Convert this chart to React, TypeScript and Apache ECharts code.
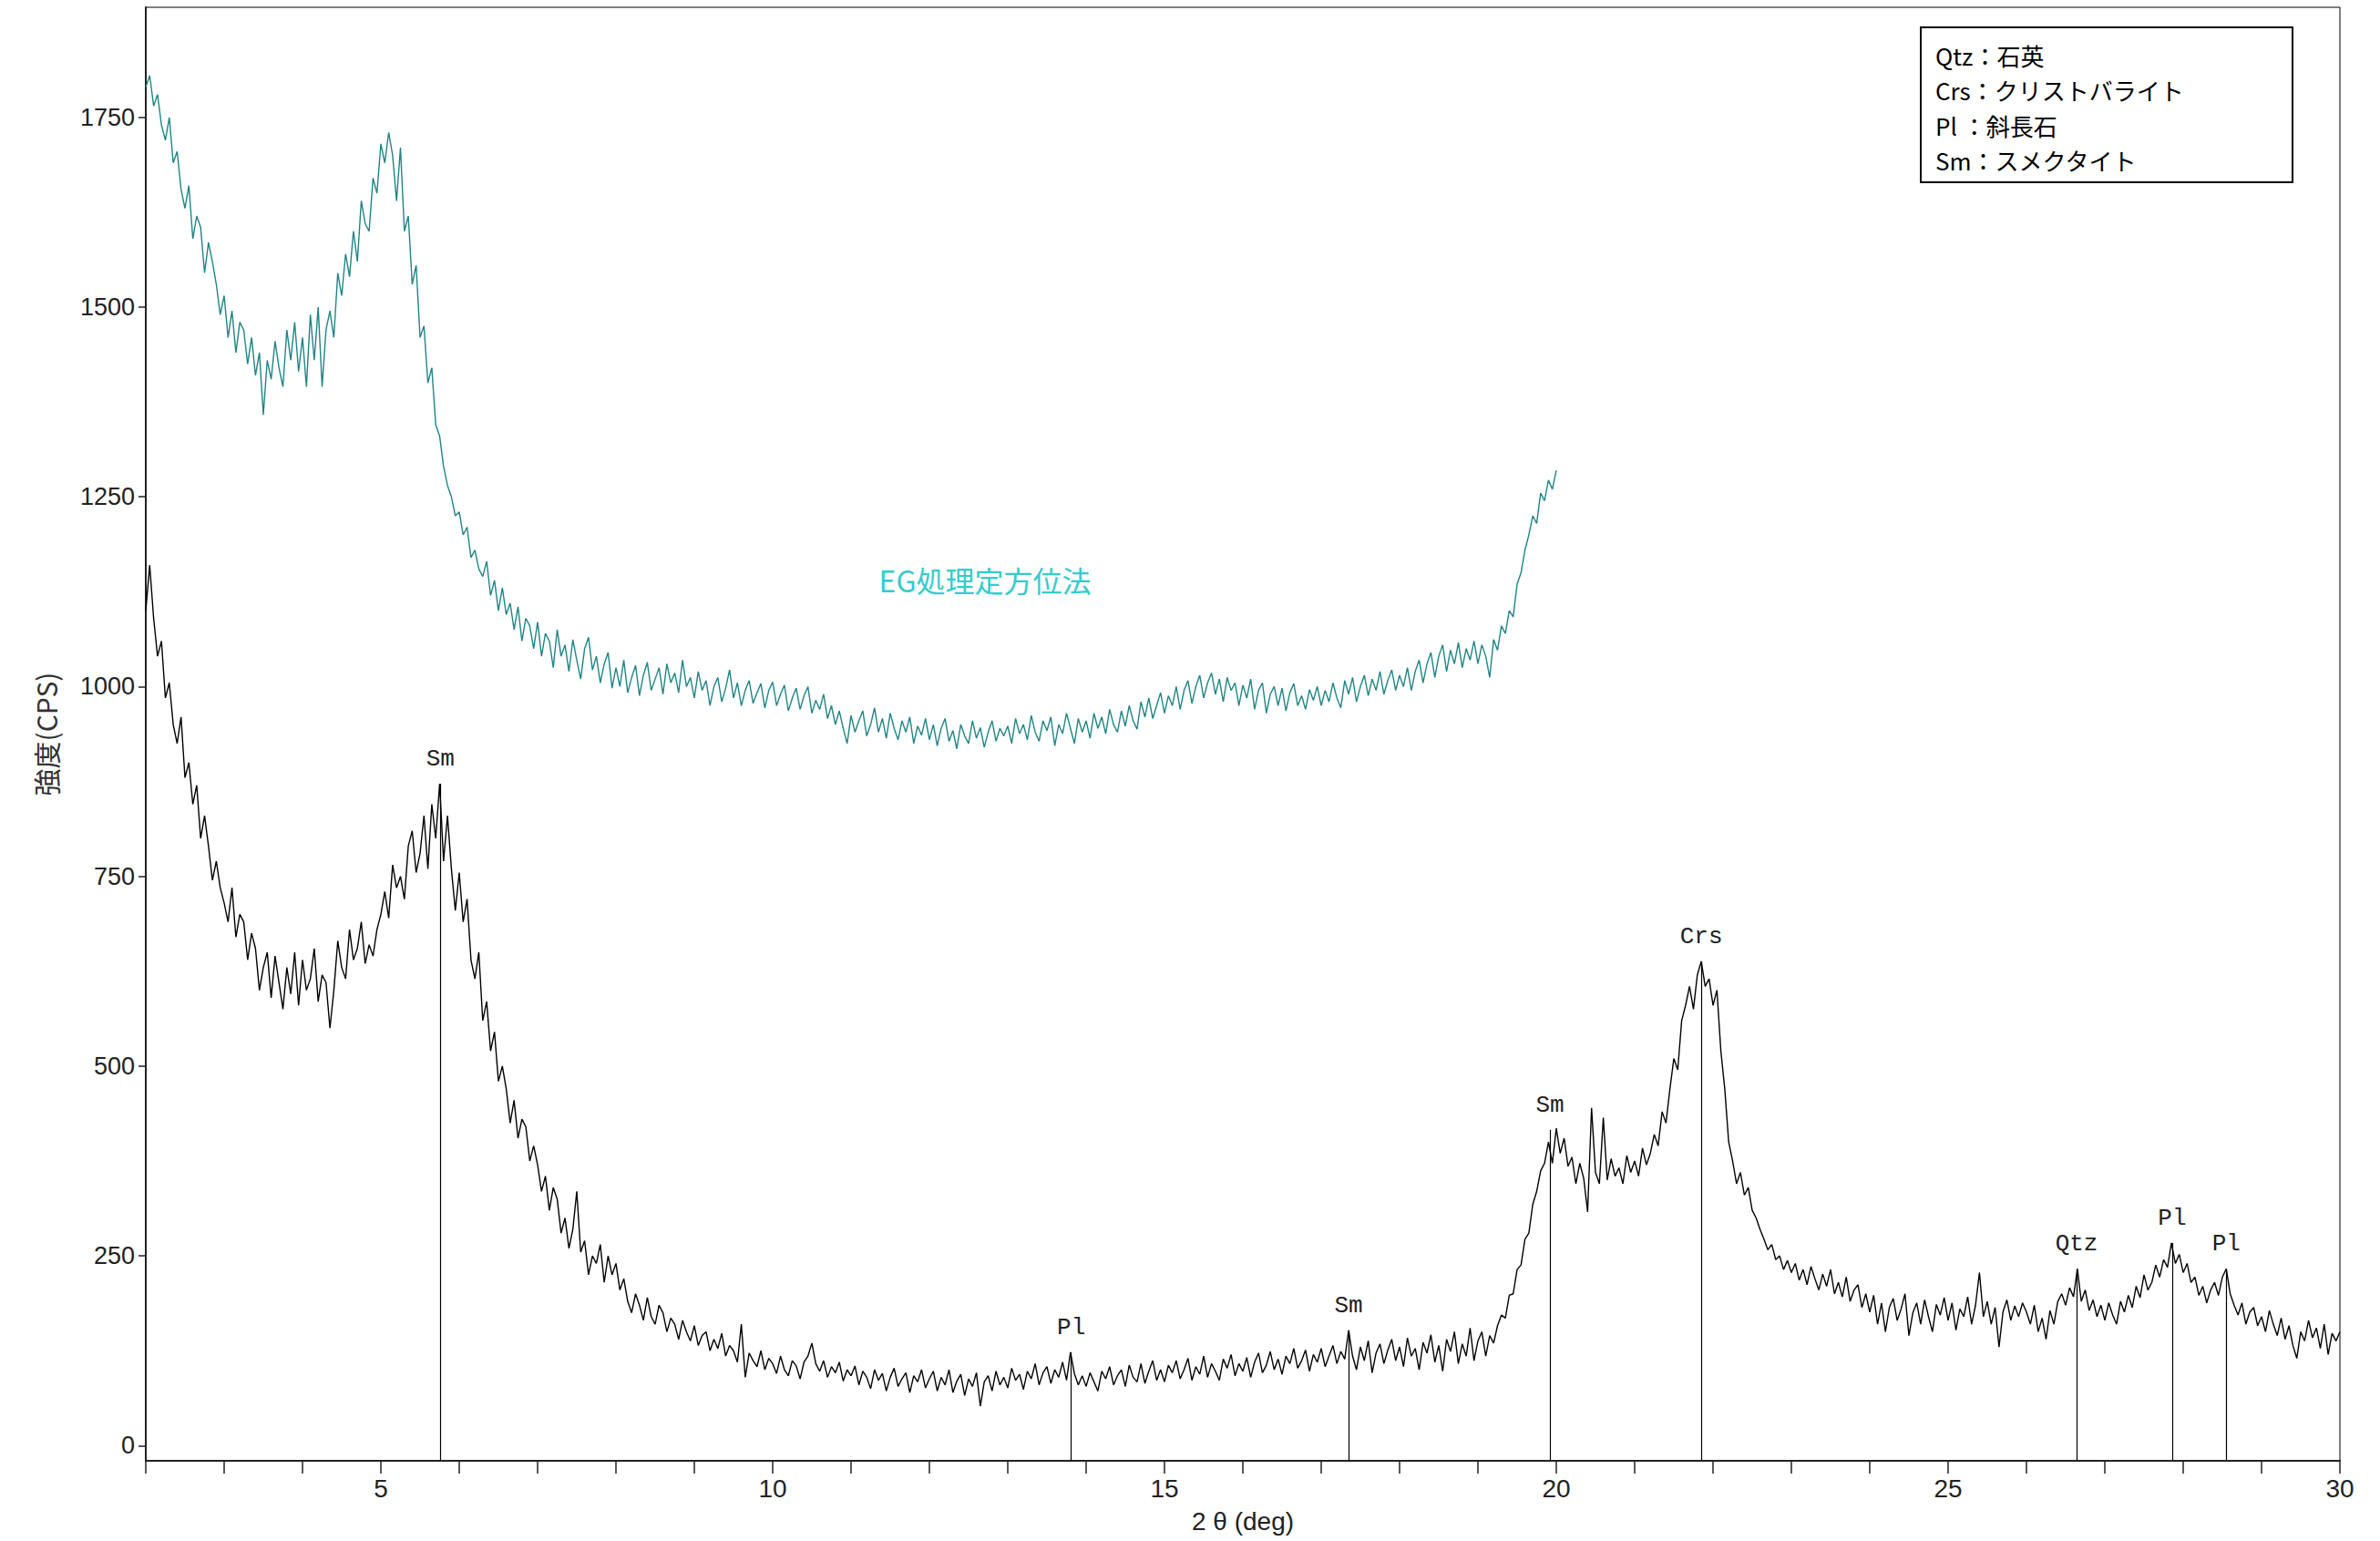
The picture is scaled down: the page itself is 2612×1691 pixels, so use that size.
import React, { useEffect, useRef } from "react";
import * as echarts from "echarts";

// 2θ sampling of both patterns (deg)
const X_START = 2;
const X_STEP = 0.05;

// Untreated sample intensity (CPS), 2.00° .. 30.00° every 0.05°
const blackIntensity: number[] = [
  1100, 1160, 1090, 1040, 1060, 985, 1005, 950, 925, 960, 880, 900, 845, 870, 800, 830, 790, 745, 770, 735,
  715, 690, 735, 670, 700, 690, 640, 675, 655, 600, 630, 650, 590, 645, 610, 575, 630, 595, 650, 580,
  640, 600, 615, 655, 585, 620, 610, 550, 600, 665, 630, 615, 680, 640, 655, 690, 635, 660, 645, 680,
  700, 730, 695, 765, 735, 750, 720, 790, 810, 755, 780, 830, 760, 845, 800, 872, 770, 830, 760, 705,
  755, 690, 720, 640, 615, 650, 560, 585, 520, 545, 480, 500, 470, 425, 455, 405, 430, 420, 375, 395,
  370, 335, 355, 310, 340, 325, 280, 300, 260, 285, 335, 255, 270, 225, 250, 240, 265, 215, 250, 225,
  240, 205, 220, 190, 175, 200, 185, 165, 195, 170, 160, 185, 175, 150, 168, 160, 140, 165, 150, 138,
  158, 132, 145, 150, 125, 140, 128, 148, 118, 132, 125, 110, 160, 90, 122, 112, 104, 125, 100, 115,
  108, 95, 118, 100, 92, 112, 105, 88, 110, 118, 135, 108, 98, 112, 90, 104, 96, 110, 85, 100,
  92, 105, 80, 98, 90, 75, 100, 86, 95, 72, 90, 102, 78, 88, 96, 70, 92, 84, 100, 76,
  88, 98, 72, 90, 80, 100, 70, 85, 94, 66, 88, 78, 96, 52, 84, 92, 72, 98, 80, 90,
  76, 102, 86, 94, 74, 98, 88, 108, 80, 96, 104, 82, 100, 90, 110, 86, 123, 95, 80, 92,
  78, 96, 84, 72, 98, 88, 104, 80, 92, 100, 78, 106, 90, 84, 108, 82, 98, 112, 86, 100,
  84, 106, 96, 112, 88, 100, 115, 86, 104, 94, 118, 90, 108, 98, 86, 114, 102, 120, 92, 108,
  98, 116, 90, 110, 122, 96, 106, 124, 100, 114, 94, 118, 108, 128, 102, 112, 126, 98, 120, 110,
  128, 104, 118, 132, 108, 124, 114, 152, 118, 100, 130, 112, 138, 96, 122, 134, 108, 126, 140, 112,
  130, 104, 142, 118, 128, 100, 136, 122, 146, 110, 132, 98, 140, 124, 150, 108, 134, 118, 155, 112,
  138, 150, 118, 145, 135, 158, 172, 168, 198, 200, 232, 238, 272, 280, 318, 335, 362, 372, 400, 372,
  418, 385, 405, 368, 380, 345, 372, 352, 308, 445, 360, 345, 432, 350, 378, 355, 366, 345, 382, 360,
  375, 355, 392, 370, 385, 410, 395, 440, 425, 470, 510, 495, 560, 580, 605, 575, 620, 638, 605, 615,
  580, 600, 520, 470, 400, 375, 345, 360, 330, 340, 310, 300, 285, 272, 258, 265, 245, 250, 232, 244,
  228, 240, 218, 232, 212, 236, 220, 205, 226, 210, 232, 200, 215, 196, 222, 190, 205, 212, 182, 200,
  176, 198, 160, 188, 150, 182, 194, 165, 180, 200, 145, 175, 188, 160, 192, 170, 150, 186, 172, 195,
  165, 188, 152, 180, 170, 196, 160, 185, 228, 170, 190, 160, 182, 130, 176, 192, 165, 184, 170, 188,
  176, 160, 185, 150, 168, 140, 178, 160, 190, 200, 185, 208, 196, 233, 190, 205, 178, 192, 170, 185,
  165, 188, 172, 160, 190, 176, 198, 182, 210, 195, 225, 205, 215, 238, 222, 245, 235, 267, 240, 252,
  228, 240, 215, 222, 198, 210, 188, 205, 215, 198, 222, 233, 200, 185, 172, 188, 160, 176, 182, 158,
  170, 150, 178, 160, 145, 168, 140, 158, 132, 115, 150, 138, 165, 142, 155, 128, 160, 120, 148, 138,
  150,
];

// EG-treated oriented sample intensity (CPS), 2.00° .. 20.00° every 0.05°
const tealIntensity: number[] = [
  1790, 1805, 1765, 1780, 1740, 1720, 1750, 1690, 1705, 1655, 1630, 1660, 1590, 1620, 1605, 1545, 1585, 1560, 1530, 1490,
  1515, 1460, 1495, 1440, 1480, 1470, 1425, 1460, 1410, 1440, 1358, 1430, 1405, 1455, 1420, 1395, 1470, 1430, 1480, 1415,
  1460, 1395, 1490, 1430, 1500, 1395, 1470, 1495, 1460, 1545, 1515, 1570, 1540, 1600, 1560, 1640, 1610, 1600, 1670, 1650,
  1715, 1690, 1730, 1700, 1640, 1710, 1600, 1620, 1530, 1555, 1460, 1475, 1400, 1420, 1345, 1330, 1290, 1265, 1250, 1225,
  1230, 1200, 1210, 1170, 1180, 1155, 1145, 1165, 1120, 1140, 1100, 1130, 1095, 1110, 1075, 1105, 1060, 1090, 1080, 1050,
  1085, 1040, 1070, 1060, 1025, 1075, 1040, 1055, 1020, 1062, 1035, 1010, 1050, 1065, 1022, 1040, 1005, 1030, 1045, 998,
  1025, 1000, 1035, 992, 1012, 1028, 988, 1015, 1032, 995, 1010, 1025, 990, 1030, 1005, 1018, 992, 1035, 1000, 1012,
  985, 1020, 995, 1008, 975, 1000, 1012, 980, 998, 1022, 985, 1005, 975, 995, 1008, 978, 992, 1004, 972, 995,
  1006, 975, 990, 1002, 968, 985, 998, 970, 988, 1000, 965, 982, 970, 990, 958, 975, 950, 968, 945, 925,
  962, 940, 955, 968, 935, 950, 972, 940, 958, 932, 965, 945, 930, 955, 940, 960, 925, 948, 936, 958,
  930, 950, 922, 945, 958, 928, 942, 918, 950, 935, 925, 955, 932, 946, 920, 940, 955, 928, 945, 935,
  948, 925, 958, 938, 950, 930, 962, 940, 928, 955, 942, 960, 922, 950, 938, 965, 945, 925, 958, 940,
  955, 932, 965, 945, 960, 938, 970, 950, 940, 968, 948, 975, 955, 944, 980, 960, 985, 958, 975, 992,
  965, 988, 975, 1000, 970, 995, 1008, 978, 1000, 1015, 985, 1005, 1018, 990, 1010, 980, 1012, 995, 1005, 975,
  1002, 985, 1010, 970, 995, 1005, 965, 990, 1000, 975, 998, 968, 992, 1004, 975, 988, 970, 996, 982, 1000,
  975, 995, 980, 1005, 985, 972, 1008, 990, 1012, 980, 1000, 1015, 988, 1010, 995, 1020, 990, 1008, 1022, 995,
  1015, 1000, 1025, 995, 1020, 1035, 1005, 1030, 1045, 1012, 1040, 1055, 1020, 1048, 1030, 1058, 1025, 1050, 1035, 1060,
  1030, 1055, 1040, 1012, 1062, 1048, 1080, 1070, 1100, 1092, 1135, 1150, 1180, 1200, 1225, 1215, 1255, 1245, 1272, 1260,
  1285,
];

// Peak identification markers
const peakAngles = [5.76, 13.81, 17.35, 19.92, 21.85, 26.64, 27.86, 28.55];
const peakTops = [872, 123, 152, 416, 638, 233, 267, 233];
const peakNames = ["Sm", "Pl", "Sm", "Sm", "Crs", "Qtz", "Pl", "Pl"];

// Axis ticks and labels
const yTickValues = [0, 250, 500, 750, 1000, 1250, 1500, 1750];
const xLabelValues = [5, 10, 15, 20, 25, 30];
const xTickValues = [2, 3, 4, 5, 6, 7, 8, 9, 10, 11, 12, 13, 14, 15, 16, 17, 18, 19, 20, 21, 22, 23, 24, 25, 26, 27, 28, 29, 30];

const legendLines = ["Qtz：石英", "Crs：クリストバライト", "Pl ：斜長石", "Sm：スメクタイト"];
const annotationText = "EG処理定方位法";

const toPairs = (vals: number[]) =>
  vals.map((v, i) => [Number((X_START + i * X_STEP).toFixed(2)), v]);

export default function App() {
  const ref = useRef<HTMLDivElement>(null);

  useEffect(() => {
    if (!ref.current) return;
    const chart = echarts.init(ref.current, undefined, { renderer: "svg" });
    const jp = "'Noto Sans CJK JP', 'Noto Sans', sans-serif";
    const mono = "'Liberation Mono', 'DejaVu Sans Mono', monospace";
    const narrow = "'Liberation Sans Narrow', 'Liberation Sans', sans-serif";

    const markData = peakAngles.map((a, i) => [
      { name: peakNames[i], coord: [a, -20] },
      { coord: [a, peakTops[i]] },
    ]);

    const option: any = {
      animation: false,
      backgroundColor: "#ffffff",
      grid: {
        left: 160,
        right: 44,
        top: 8,
        bottom: 88,
        show: true,
        borderColor: "#000",
        borderWidth: 1,
        containLabel: false,
        outerBoundsMode: "none",
      },
      xAxis: {
        type: "value",
        min: 2,
        max: 30,
        name: "2 θ (deg)",
        nameLocation: "middle",
        nameGap: 52,
        nameTextStyle: { fontSize: 28, color: "#222", fontFamily: narrow },
        axisLine: { onZero: false, lineStyle: { color: "#222", width: 2 } },
        axisTick: { show: true, customValues: xTickValues, length: 14, lineStyle: { color: "#222", width: 1.5 } },
        axisLabel: {
          customValues: xLabelValues,
          margin: 16,
          fontSize: 28,
          color: "#222",
          fontFamily: narrow,
          formatter: (v: number) => String(v),
        },
        splitLine: { show: false },
      },
      yAxis: {
        type: "value",
        min: -20,
        max: 1895,
        name: "強度(CPS)",
        nameLocation: "middle",
        nameGap: 95,
        nameRotate: 90,
        nameTextStyle: { fontSize: 30, color: "#333", fontFamily: jp },
        axisLine: { onZero: false, lineStyle: { color: "#222", width: 2 } },
        axisTick: { show: true, customValues: yTickValues, length: 8, lineStyle: { color: "#222", width: 1.5 } },
        axisLabel: {
          customValues: yTickValues,
          margin: 12,
          fontSize: 27,
          color: "#222",
          fontFamily: "'Liberation Sans', Arial, sans-serif",
          formatter: (v: number) => String(v),
        },
        splitLine: { show: false },
      },
      series: [
        {
          name: "EG処理定方位法",
          type: "line",
          data: toPairs(tealIntensity),
          showSymbol: false,
          symbol: "none",
          lineStyle: { color: "#1f8585", width: 1.4 },
          silent: true,
          z: 2,
        },
        {
          name: "untreated",
          type: "line",
          data: toPairs(blackIntensity),
          showSymbol: false,
          symbol: "none",
          lineStyle: { color: "#000", width: 1.4 },
          silent: true,
          z: 3,
          markLine: {
            silent: true,
            symbol: ["none", "none"],
            lineStyle: { color: "#000", width: 1.2, type: "solid" },
            label: {
              show: true,
              position: "end",
              formatter: "{b}",
              fontSize: 26,
              color: "#222",
              fontFamily: mono,
              distance: 14,
            },
            emphasis: { disabled: true },
            data: markData,
          },
        },
      ],
      graphic: [
        {
          type: "rect",
          shape: { x: 2108, y: 30, width: 408, height: 170 },
          style: { fill: "#fff", stroke: "#000", lineWidth: 2 },
          z: 10,
        },
        ...legendLines.map((t, i) => ({
          type: "text",
          x: 2124,
          y: 60 + i * 38.5,
          z: 11,
          style: {
            text: t,
            fontSize: 26,
            fontFamily: jp,
            fill: "#000",
            textVerticalAlign: "middle",
            verticalAlign: "middle",
          },
        })),
        {
          type: "text",
          x: 1081,
          y: 636,
          z: 11,
          style: {
            text: annotationText,
            fontSize: 32,
            fontFamily: jp,
            fill: "#33cccc",
            align: "center",
            textAlign: "center",
            verticalAlign: "middle",
            textVerticalAlign: "middle",
          },
        },
      ],
    };

    chart.setOption(option);
    return () => chart.dispose();
  }, []);

  return (
    <div
      ref={ref}
      style={{ position: "absolute", left: 0, top: 0, width: 2612, height: 1691, background: "#fff" }}
    />
  );
}
